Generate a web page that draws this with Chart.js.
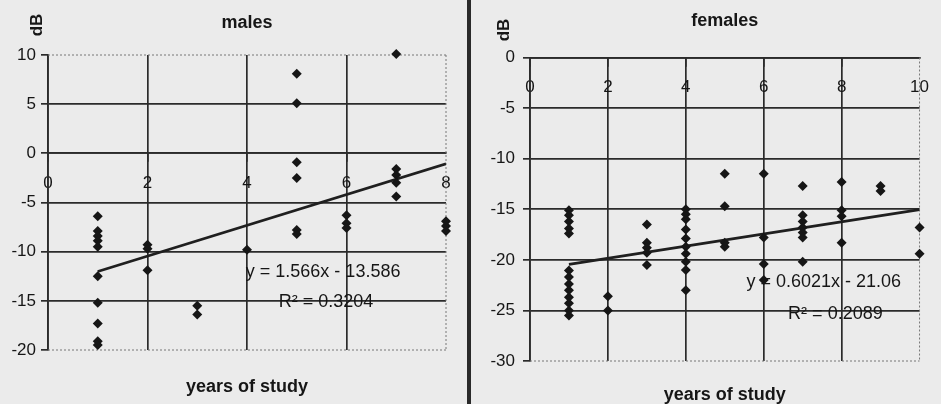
<!DOCTYPE html>
<html>
<head>
<meta charset="utf-8">
<title>males / females</title>
<script src="https://cdn.jsdelivr.net/npm/chart.js@4.4.1/dist/chart.umd.min.js"></script>
<style>
  html, body { margin: 0; padding: 0; background: #ebebeb; }
  #wrap { width: 941px; height: 404px; display: flex; }
  #divider { width: 4px; height: 404px; background: #2a2a2a; }
  canvas { display: block; }
</style>
</head>
<body>
<div id="wrap">
  <canvas id="males" width="467" height="404"></canvas>
  <div id="divider"></div>
  <canvas id="females" width="470" height="404"></canvas>
</div>
<script>
// colours and font of the scanned figure
const LINE = '#2b2b2b';
const INK = '#161616';
const CLEAR = 'rgba(0,0,0,0)';
const FONT = '"Liberation Sans", Arial, sans-serif';

// males - years of study vs level (dB)
const maleYears = [
  1, 1, 1, 1, 1, 1, 1, 1, 1, 1,
  2, 2, 2,
  3, 3,
  4,
  5, 5, 5, 5, 5, 5,
  6, 6, 6,
  7, 7, 7, 7, 7,
  8, 8, 8
];
const maleDb = [
  -6.4, -7.9, -8.4, -8.9, -9.5, -12.5, -15.2, -17.3, -19.1, -19.5,
  -9.3, -9.7, -11.9,
  -15.5, -16.4,
  -9.8,
  8.1, 5.1, -0.9, -2.5, -7.8, -8.2,
  -6.3, -7.1, -7.6,
  10.1, -1.6, -2.2, -3.0, -4.4,
  -6.9, -7.4, -7.9
];
const maleTrendX = [1, 8];
const maleTrendY = [-12.02, -1.06];
const maleXTicks = [0, 2, 4, 6, 8];
const maleYTicks = [-20, -15, -10, -5, 0, 5, 10];
const maleNotes = ['y = 1.566x - 13.586', 'R² = 0.3204'];

// females
const femaleYears = [
  1, 1, 1, 1, 1, 1, 1, 1, 1, 1, 1, 1, 1,
  2, 2,
  3, 3, 3, 3, 3,
  4, 4, 4, 4, 4, 4, 4, 4, 4, 4,
  5, 5, 5, 5,
  6, 6, 6, 6,
  7, 7, 7, 7, 7, 7, 7,
  8, 8, 8, 8,
  9, 9,
  10, 10
];
const femaleDb = [
  -15.1, -15.6, -16.2, -16.9, -17.4, -21.05, -21.7, -22.4, -23.0, -23.7, -24.3, -25.0, -25.5,
  -23.6, -25.0,
  -16.5, -18.3, -18.8, -19.3, -20.5,
  -15.0, -15.5, -16.0, -17.0, -17.9, -18.7, -19.4, -20.2, -21.0, -23.0,
  -11.5, -14.7, -18.3, -18.7,
  -11.5, -17.8, -20.4, -22.0,
  -12.7, -15.6, -16.2, -16.8, -17.3, -17.8, -20.2,
  -12.3, -15.1, -15.7, -18.3,
  -12.7, -13.2,
  -16.8, -19.4
];
const femaleTrendX = [1, 10];
const femaleTrendY = [-20.46, -15.04];
const femaleXTicks = [0, 2, 4, 6, 8, 10];
const femaleYTicks = [-30, -25, -20, -15, -10, -5, 0];
const femaleNotes = ['y = 0.6021x - 21.06', 'R² = 0.2089'];

function toPoints(xs, ys) {
  return xs.map((x, i) => ({ x: x, y: ys[i] }));
}

// dotted plot frame, rotated "dB" and the trend line equation
const framePlugin = {
  id: 'frame',
  beforeDatasetsDraw(chart, args, opts) {
    const { ctx, chartArea: a } = chart;
    ctx.save();
    ctx.strokeStyle = '#777777';
    ctx.lineWidth = 1;
    ctx.setLineDash([2, 2]);
    ctx.beginPath();
    if (opts.dottedTop) {
      ctx.moveTo(a.left, a.top);
      ctx.lineTo(a.right, a.top);
    }
    ctx.moveTo(a.right, a.top);
    ctx.lineTo(a.right, a.bottom);
    ctx.moveTo(a.left, a.bottom);
    ctx.lineTo(a.right, a.bottom);
    ctx.stroke();
    ctx.restore();

    ctx.save();
    ctx.translate(opts.unitAt[0], opts.unitAt[1]);
    ctx.rotate(-Math.PI / 2);
    ctx.font = 'bold 17px ' + FONT;
    ctx.fillStyle = INK;
    ctx.textAlign = 'center';
    ctx.textBaseline = 'middle';
    ctx.fillText('dB', 0, 0);
    ctx.restore();
  },
  afterDatasetsDraw(chart, args, opts) {
    const { ctx, scales } = chart;
    ctx.save();
    ctx.font = '18px ' + FONT;
    ctx.fillStyle = INK;
    ctx.textAlign = 'center';
    ctx.textBaseline = 'middle';
    opts.notes.forEach(n => {
      ctx.fillText(n.text, scales.x.getPixelForValue(n.x), scales.y.getPixelForValue(n.y));
    });
    ctx.restore();
  }
};

function drawPanel(id, p) {
  const tickFont = { family: FONT, size: 17 };
  const titleFont = { family: FONT, size: 18, weight: 'bold', lineHeight: 1 };
  const xMin = p.xTicks[0], xMax = p.xTicks[p.xTicks.length - 1];
  const yMin = p.yTicks[0], yMax = p.yTicks[p.yTicks.length - 1];

  return new Chart(document.getElementById(id), {
    type: 'scatter',
    data: {
      datasets: [
        {
          data: toPoints(p.xs, p.ys),
          pointStyle: 'rectRot',
          pointRadius: 5,
          pointHoverRadius: 5,
          backgroundColor: INK,
          borderColor: INK,
          borderWidth: 0,
          clip: false,
          order: 1
        },
        {
          data: toPoints(p.trendX, p.trendY),
          showLine: true,
          borderColor: '#1f1f1f',
          borderWidth: 2.8,
          pointRadius: 0,
          order: 2
        }
      ]
    },
    options: {
      responsive: false,
      animation: false,
      events: [],
      layout: { padding: { left: 0, right: p.padRight, top: 0, bottom: 0 } },
      plugins: {
        legend: { display: false },
        tooltip: { enabled: false },
        title: {
          display: true, text: p.title, color: INK, font: titleFont,
          fullSize: false, padding: p.titlePad
        },
        subtitle: {
          display: true, text: 'years of study', position: 'bottom', color: INK,
          font: titleFont, fullSize: false, padding: p.subPad
        },
        frame: { dottedTop: yMax !== 0, unitAt: p.unitAt, notes: p.notes }
      },
      scales: {
        x: {
          type: 'linear',
          min: xMin,
          max: xMax,
          position: { y: 0 },
          afterBuildTicks: s => { s.ticks = p.xTicks.map(v => ({ value: v })); },
          ticks: { color: INK, font: tickFont, padding: 12 },
          grid: {
            color: c => (c.tick && c.tick.value === xMax) ? CLEAR : LINE,
            lineWidth: 1.7,
            tickLength: 8
          },
          border: { color: LINE, width: 1.8 }
        },
        y: {
          type: 'linear',
          min: yMin,
          max: yMax,
          afterBuildTicks: s => { s.ticks = p.yTicks.map(v => ({ value: v })); },
          afterFit: s => { s.width = p.axisWidth; },
          ticks: { color: INK, font: tickFont, padding: p.yPad },
          grid: {
            color: c => (c.tick && c.tick.value !== 0 && (c.tick.value === yMin || c.tick.value === yMax)) ? CLEAR : LINE,
            tickColor: LINE,
            lineWidth: 1.7,
            tickLength: 7
          },
          border: { color: LINE, width: 1.8 }
        }
      }
    },
    plugins: [framePlugin]
  });
}

drawPanel('males', {
  title: 'males',
  xs: maleYears, ys: maleDb,
  trendX: maleTrendX, trendY: maleTrendY,
  xTicks: maleXTicks, yTicks: maleYTicks,
  axisWidth: 48, padRight: 21, yPad: 5,
  titlePad: { top: 14, bottom: 23 },
  subPad: { top: 28, bottom: 8 },
  unitAt: [37, 25],
  notes: [
    { text: maleNotes[0], x: 5.53, y: -12.1 },
    { text: maleNotes[1], x: 5.59, y: -15.1 }
  ]
});

drawPanel('females', {
  title: 'females',
  xs: femaleYears, ys: femaleDb,
  trendX: femaleTrendX, trendY: femaleTrendY,
  xTicks: femaleXTicks, yTicks: femaleYTicks,
  axisWidth: 59, padRight: 12, yPad: 8,
  titlePad: { top: 12, bottom: 27.5 },
  subPad: { top: 25, bottom: 0 },
  unitAt: [33, 30],
  notes: [
    { text: femaleNotes[0], x: 7.54, y: -22.2 },
    { text: femaleNotes[1], x: 7.84, y: -25.4 }
  ]
});
</script>
</body>
</html>
